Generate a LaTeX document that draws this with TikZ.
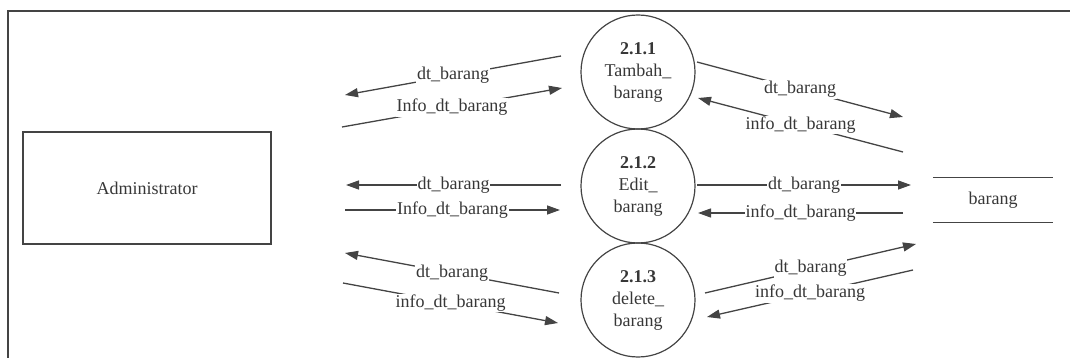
\documentclass[tikz,border=0pt]{standalone}
\usepackage{fontspec}
\setmainfont{Liberation Serif}
\usetikzlibrary{arrows.meta}
\definecolor{ink}{RGB}{68,68,68}
\definecolor{txt}{RGB}{55,55,55}
\tikzset{
  base/.style={font=\fontsize{18}{22}\selectfont, text=txt},
  procbox/.style={base, circle, draw=ink, line width=1.2pt, minimum size=114pt, inner sep=0pt, align=center},
  entitybox/.style={base, rectangle, draw=ink, line width=1.3pt, minimum width=248pt, minimum height=112pt},
  storebox/.style={base, minimum width=120pt, minimum height=44pt},
  flow/.style={draw=ink, line width=1.3pt, -{Triangle[length=13pt,width=9pt]}},
  lbl/.style={base, fill=white, inner sep=1pt, pos=0.5}
}
\begin{document}
\begin{tikzpicture}[x=1pt, y=-1pt]
\useasboundingbox (0,0) rectangle (1070,358);
% outer frame
\draw[ink, line width=1.3pt] (1070,11) -- (8,11) -- (8,358);

% external entity, processes and data store
\node[entitybox] (admin) at (147,188) {Administrator};
\node[procbox] (p1) at (638,72)  {\textbf{2.1.1}\\Tambah\_\\barang};
\node[procbox] (p2) at (638,186) {\textbf{2.1.2}\\Edit\_\\barang};
\node[procbox] (p3) at (638,300) {\textbf{2.1.3}\\delete\_\\barang};
\node[storebox] (store) at (993,200) {barang};
\draw[ink, line width=1.3pt] (store.north west) -- (store.north east);
\draw[ink, line width=1.3pt] (store.south west) -- (store.south east);

% flow end points
\coordinate (a1) at (561,56);  \coordinate (a2) at (345,95);
\coordinate (b1) at (342,127); \coordinate (b2) at (562,88);
\coordinate (c1) at (697,62);  \coordinate (c2) at (903,117);
\coordinate (d1) at (903,152); \coordinate (d2) at (698,98);

\coordinate (e1) at (561,185); \coordinate (e2) at (346,185);
\coordinate (f1) at (345,210); \coordinate (f2) at (560,210);
\coordinate (g1) at (697,185); \coordinate (g2) at (911,185);
\coordinate (h1) at (903,213); \coordinate (h2) at (698,213);

\coordinate (i1) at (559,293); \coordinate (i2) at (345,253);
\coordinate (j1) at (343,283); \coordinate (j2) at (558,323);
\coordinate (k1) at (705,293); \coordinate (k2) at (916,244);
\coordinate (l1) at (913,270); \coordinate (l2) at (707,317);

% flows of process 2.1.1
\draw[flow] (a1) -- node[lbl]{dt\_barang} (a2);
\draw[flow] (b1) -- node[lbl]{Info\_dt\_barang} (b2);
\draw[flow] (c1) -- node[lbl]{dt\_barang} (c2);
\draw[flow] (d1) -- node[lbl]{info\_dt\_barang} (d2);

% flows of process 2.1.2
\draw[flow] (e1) -- node[lbl]{dt\_barang} (e2);
\draw[flow] (f1) -- node[lbl]{Info\_dt\_barang} (f2);
\draw[flow] (g1) -- node[lbl]{dt\_barang} (g2);
\draw[flow] (h1) -- node[lbl]{info\_dt\_barang} (h2);

% flows of process 2.1.3
\draw[flow] (i1) -- node[lbl]{dt\_barang} (i2);
\draw[flow] (j1) -- node[lbl]{info\_dt\_barang} (j2);
\draw[flow] (k1) -- node[lbl]{dt\_barang} (k2);
\draw[flow] (l1) -- node[lbl]{info\_dt\_barang} (l2);
\end{tikzpicture}
\end{document}
